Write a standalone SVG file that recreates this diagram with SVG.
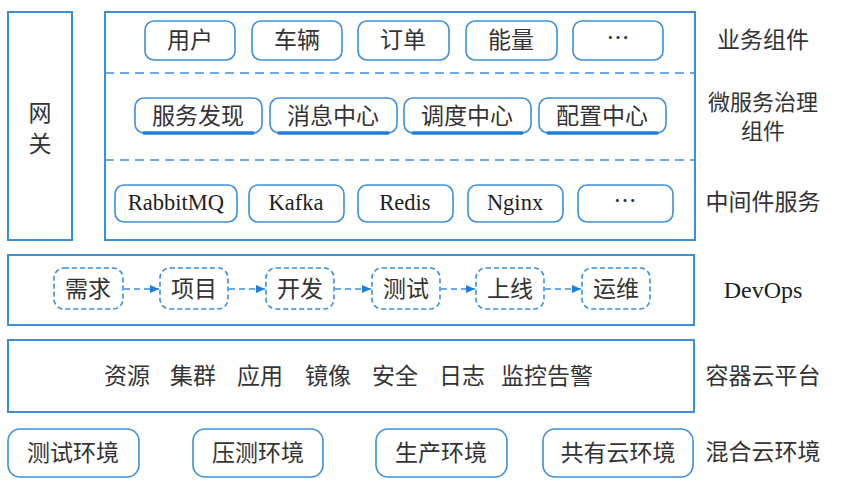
<svg xmlns="http://www.w3.org/2000/svg" width="852" height="492" viewBox="0 0 852 492">
<defs>
<style>
.frame{fill:#fff;stroke:#3d8fd8;stroke-width:2}
.box{fill:#fff;stroke:#3d8fd8;stroke-width:1.6}
.dbox{fill:#fff;stroke:#3d8fd8;stroke-width:1.6;stroke-dasharray:5 3}
.sep{stroke:#3d8fd8;stroke-width:1.6;stroke-dasharray:9 6}
.ul{stroke:#1f7fd6;stroke-width:3.5;stroke-linecap:round}
.conn{stroke:#3d8fd8;stroke-width:1.6;stroke-dasharray:6 4;fill:none}
.cn{font-family:"Noto Sans CJK SC","Noto Sans",sans-serif;font-size:23px;fill:#333;text-anchor:middle}
.lbl{font-family:"Noto Sans CJK SC","Noto Sans",sans-serif;font-size:23px;fill:#333;text-anchor:middle}
.en{font-family:"Liberation Serif","Times New Roman",serif;font-size:22.5px;fill:#1e1e1e;text-anchor:middle}
</style>
<marker id="arr" markerWidth="10" markerHeight="10" refX="9" refY="5" orient="auto" markerUnits="userSpaceOnUse">
<path d="M0,1 L9,5 L0,9 z" fill="#1f7fd6"/>
</marker>
</defs>
<rect width="852" height="492" fill="#fff"/>

<g id="gateway">
<rect class="frame" x="8" y="12" width="64" height="228"/>
<text class="cn" x="40" y="121">网</text>
<text class="cn" x="40" y="152">关</text>
</g>

<g id="main-frame">
<rect class="frame" x="105" y="12" width="590" height="228"/>
<line class="sep" x1="105" y1="73" x2="695" y2="73"/>
<line class="sep" x1="105" y1="160" x2="695" y2="160"/>
</g>

<g id="biz-user"><rect class="box" x="145" y="21" width="90" height="39" rx="9"/><text class="cn" x="190" y="48">用户</text></g>
<g id="biz-vehicle"><rect class="box" x="252" y="21" width="90" height="39" rx="9"/><text class="cn" x="297" y="48">车辆</text></g>
<g id="biz-order"><rect class="box" x="358" y="21" width="91" height="39" rx="9"/><text class="cn" x="403" y="48">订单</text></g>
<g id="biz-energy"><rect class="box" x="466" y="21" width="91" height="39" rx="9"/><text class="cn" x="511" y="48">能量</text></g>
<g id="biz-more"><rect class="box" x="573" y="21" width="90" height="39" rx="9"/><text class="cn" x="618" y="46">…</text></g>

<g id="gov-discovery"><rect class="box" x="135" y="98" width="127" height="35" rx="9"/><line class="ul" x1="144" y1="133" x2="253" y2="133"/><text class="cn" x="198" y="124">服务发现</text></g>
<g id="gov-message"><rect class="box" x="270" y="98" width="127" height="35" rx="9"/><line class="ul" x1="279" y1="133" x2="388" y2="133"/><text class="cn" x="333" y="124">消息中心</text></g>
<g id="gov-schedule"><rect class="box" x="404" y="98" width="127" height="35" rx="9"/><line class="ul" x1="413" y1="133" x2="522" y2="133"/><text class="cn" x="467" y="124">调度中心</text></g>
<g id="gov-config"><rect class="box" x="539" y="98" width="127" height="35" rx="9"/><line class="ul" x1="548" y1="133" x2="657" y2="133"/><text class="cn" x="602" y="124">配置中心</text></g>

<g id="mw-rabbitmq"><rect class="box" x="115" y="185" width="122" height="37" rx="9"/><text class="en" x="176" y="210">RabbitMQ</text></g>
<g id="mw-kafka"><rect class="box" x="249" y="185" width="95" height="37" rx="9"/><text class="en" x="296" y="210">Kafka</text></g>
<g id="mw-redis"><rect class="box" x="358" y="185" width="95" height="37" rx="9"/><text class="en" x="405" y="210">Redis</text></g>
<g id="mw-nginx"><rect class="box" x="468" y="185" width="95" height="37" rx="9"/><text class="en" x="515" y="210">Nginx</text></g>
<g id="mw-more"><rect class="box" x="578" y="185" width="95" height="37" rx="9"/><text class="cn" x="625" y="209">…</text></g>

<g id="layer-labels">
<text class="lbl" x="763" y="48">业务组件</text>
<text class="lbl" style="font-size:22px"><tspan x="763" y="110">微服务治理</tspan><tspan x="763" y="139">组件</tspan></text>
<text class="lbl" x="763" y="210">中间件服务</text>
<text class="en" x="763" y="298" style="font-size:24px">DevOps</text>
<text class="lbl" x="763" y="384">容器云平台</text>
<text class="lbl" x="763" y="460">混合云环境</text>
</g>

<g id="devops-frame"><rect class="frame" x="8" y="255" width="686" height="70"/></g>

<g id="dev-req"><rect class="dbox" x="54" y="268" width="69" height="41" rx="10"/><text class="cn" x="88" y="297">需求</text></g>
<g id="dev-proj"><rect class="dbox" x="160" y="268" width="68" height="41" rx="10"/><text class="cn" x="194" y="297">项目</text></g>
<g id="dev-dev"><rect class="dbox" x="266" y="268" width="68" height="41" rx="10"/><text class="cn" x="300" y="297">开发</text></g>
<g id="dev-test"><rect class="dbox" x="372" y="268" width="68" height="41" rx="10"/><text class="cn" x="406" y="297">测试</text></g>
<g id="dev-online"><rect class="dbox" x="476" y="268" width="68" height="41" rx="10"/><text class="cn" x="510" y="297">上线</text></g>
<g id="dev-ops"><rect class="dbox" x="582" y="268" width="68" height="41" rx="10"/><text class="cn" x="616" y="297">运维</text></g>

<g id="connectors">
<line class="conn" x1="124" y1="289" x2="159" y2="289" marker-end="url(#arr)"/>
<line class="conn" x1="229" y1="289" x2="265" y2="289" marker-end="url(#arr)"/>
<line class="conn" x1="335" y1="289" x2="371" y2="289" marker-end="url(#arr)"/>
<line class="conn" x1="441" y1="289" x2="475" y2="289" marker-end="url(#arr)"/>
<line class="conn" x1="545" y1="289" x2="581" y2="289" marker-end="url(#arr)"/>
</g>

<g id="container-platform">
<rect class="frame" x="8" y="340" width="686" height="72"/>
<text class="lbl" x="127" y="384">资源</text>
<text class="lbl" x="193" y="384">集群</text>
<text class="lbl" x="260" y="384">应用</text>
<text class="lbl" x="328" y="384">镜像</text>
<text class="lbl" x="395" y="384">安全</text>
<text class="lbl" x="462" y="384">日志</text>
<text class="lbl" x="547" y="384">监控告警</text>
</g>

<g id="env-test"><rect class="box" x="8" y="429" width="131" height="48" rx="12"/><text class="cn" x="73" y="461">测试环境</text></g>
<g id="env-stress"><rect class="box" x="193" y="429" width="130" height="48" rx="12"/><text class="cn" x="258" y="461">压测环境</text></g>
<g id="env-prod"><rect class="box" x="376" y="429" width="131" height="48" rx="12"/><text class="cn" x="441" y="461">生产环境</text></g>
<g id="env-public"><rect class="box" x="543" y="429" width="150" height="48" rx="12"/><text class="cn" x="618" y="461">共有云环境</text></g>
</svg>
